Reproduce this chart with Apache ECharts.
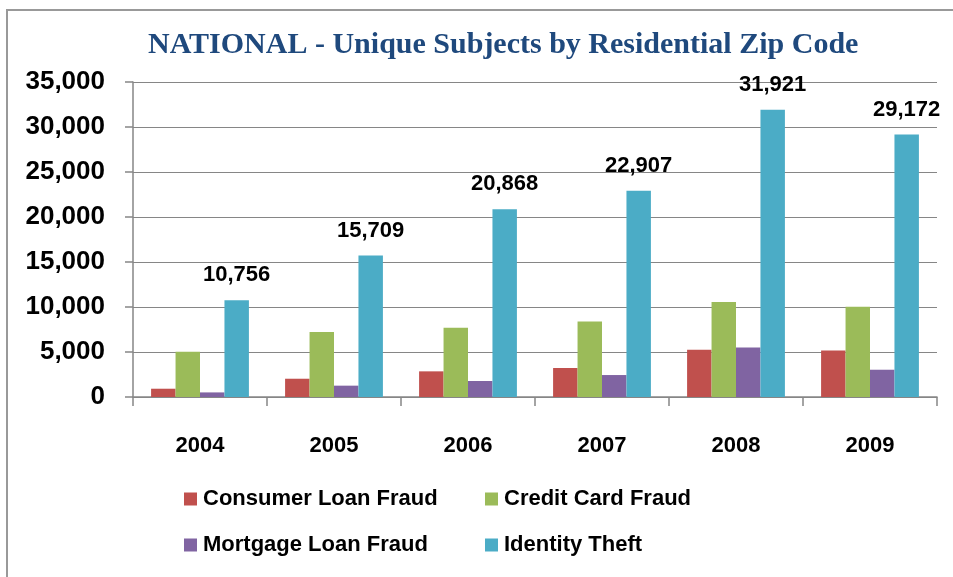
<!DOCTYPE html>
<html>
<head>
<meta charset="utf-8">
<script src="https://cdn.jsdelivr.net/npm/echarts@6/dist/echarts.min.js"></script>
<style>
  html, body { margin: 0; padding: 0; background: #fff; }
  #chart { width: 953px; height: 577px; }
</style>
</head>
<body>
<div id="chart"></div>
<script>
const years = ['2004', '2005', '2006', '2007', '2008', '2009'];
const consumerLoan = [920, 2030, 2850, 3220, 5260, 5180];
const creditCard = [5030, 7220, 7700, 8400, 10560, 10030];
const mortgageLoan = [510, 1260, 1780, 2440, 5510, 3030];
const identityTheft = [10756, 15709, 20868, 22907, 31921, 29172];

const sans = '"Liberation Sans", Arial, sans-serif';
const fmt = v => Number(v).toLocaleString('en-US');

const chart = echarts.init(document.getElementById('chart'));

function legendItem(name, left, top) {
  return {
    data: [name],
    left: left,
    top: top,
    padding: 0,
    itemWidth: 13,
    itemHeight: 13,
    icon: 'rect',
    textStyle: {
      fontFamily: sans,
      fontWeight: 'bold',
      fontSize: 22,
      lineHeight: 24,
      color: '#000',
      padding: [0, 0, 0, 1]
    }
  };
}

const option = {
  backgroundColor: '#fff',
  animation: false,
  color: ['#C0504D', '#9BBB59', '#8064A2', '#4BACC6'],
  title: {
    text: 'NATIONAL - Unique Subjects by Residential Zip Code',
    left: 148,
    top: 30,
    padding: 0,
    textStyle: {
      fontFamily: '"Liberation Serif", "Times New Roman", serif',
      fontWeight: 'bold',
      fontSize: 30,
      lineHeight: 30,
      color: '#1F497D'
    }
  },
  graphic: [{
    type: 'rect',
    shape: { x: 7, y: 10, width: 1100, height: 800 },
    style: { fill: 'none', stroke: '#999', lineWidth: 2 },
    silent: true
  }],
  legend: [
    legendItem('Consumer Loan Fraud', 184, 487),
    legendItem('Credit Card Fraud', 485, 487),
    legendItem('Mortgage Loan Fraud', 184, 533),
    legendItem('Identity Theft', 485, 533)
  ],
  grid: {
    left: 133,
    right: 16,
    top: 82,
    bottom: 180,
    containLabel: false
  },
  xAxis: {
    type: 'category',
    data: years,
    axisLine: { lineStyle: { color: '#868686', width: 1.5 } },
    axisTick: { show: true, length: 9, lineStyle: { color: '#868686', width: 1.5 } },
    axisLabel: {
      margin: 37,
      fontFamily: sans,
      fontWeight: 'bold',
      fontSize: 22,
      lineHeight: 24,
      color: '#000'
    }
  },
  yAxis: {
    type: 'value',
    min: 0,
    max: 35000,
    interval: 5000,
    axisLine: { show: true, lineStyle: { color: '#868686', width: 1.5 } },
    axisTick: { show: true, length: 8, lineStyle: { color: '#868686', width: 1.5 } },
    splitLine: { lineStyle: { color: '#868686', width: 1.2 } },
    axisLabel: {
      margin: 28,
      fontFamily: sans,
      fontWeight: 'bold',
      fontSize: 26,
      color: '#000',
      formatter: fmt
    }
  },
  series: [
    { name: 'Consumer Loan Fraud', type: 'bar', data: consumerLoan, barGap: '0%', barCategoryGap: '27%' },
    { name: 'Credit Card Fraud', type: 'bar', data: creditCard, barGap: '0%', barCategoryGap: '27%' },
    { name: 'Mortgage Loan Fraud', type: 'bar', data: mortgageLoan, barGap: '0%', barCategoryGap: '27%' },
    {
      name: 'Identity Theft', type: 'bar', data: identityTheft, barGap: '0%', barCategoryGap: '27%',
      label: {
        show: true,
        position: 'top',
        distance: 14,
        fontFamily: sans,
        fontWeight: 'bold',
        fontSize: 22,
        color: '#000',
        formatter: p => fmt(p.value)
      }
    }
  ]
};

chart.setOption(option);
</script>
</body>
</html>
